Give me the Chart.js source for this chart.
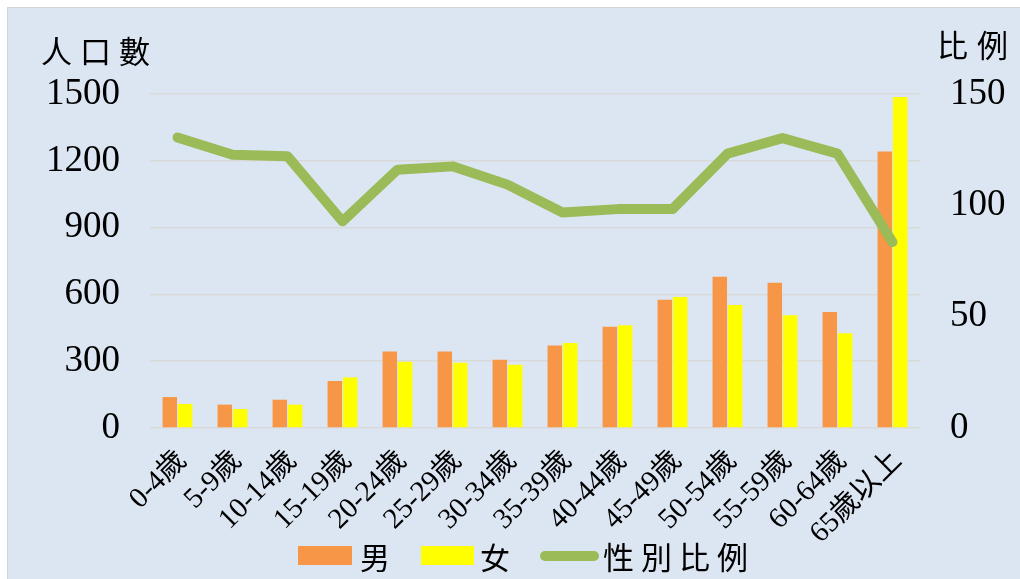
<!DOCTYPE html>
<html>
<head>
<meta charset="utf-8">
<script src="https://cdn.jsdelivr.net/npm/chart.js@4/dist/chart.umd.min.js"></script>
<style>
  body { margin: 0; background: #fff; width: 1020px; height: 579px; overflow: hidden; position: relative; }
  #box { position: absolute; left: 7px; top: 7px; width: 1013px; height: 572px; background: #dce6f2;
         border-left: 1px solid #d4d4d4; border-top: 1px solid #d4d4d4; box-sizing: border-box; }
  #chart { position: absolute; left: 7px; top: 7px; }
  .t { position: absolute; font-family: 'Noto Sans CJK TC', 'Noto Sans CJK SC', sans-serif; color: #000; white-space: nowrap; line-height: 1; }
  .sw { position: absolute; }
</style>
</head>
<body>
<div id="box"></div>
<canvas id="chart" width="1013" height="572"></canvas>

<!-- titres des axes -->
<div class="t" style="left:41px;top:34px;font-size:31px;letter-spacing:8px;">人口數</div>
<div class="t" style="left:937px;top:28px;font-size:31px;letter-spacing:9px;">比例</div>

<!-- légende -->
<div class="sw" style="left:298px;top:546px;width:54px;height:19px;background:#f79646;"></div>
<div class="t" style="left:360px;top:541px;font-size:30px;">男</div>
<div class="sw" style="left:421px;top:546px;width:53px;height:19px;background:#ffff00;"></div>
<div class="t" style="left:480px;top:541px;font-size:30px;">女</div>
<div class="sw" style="left:540px;top:551px;width:59px;height:10px;border-radius:5px;background:#9bbb59;"></div>
<div class="t" style="left:603px;top:540px;font-size:31px;letter-spacing:7px;">性別比例</div>

<script>
// Données
const categories = ['0-4歲', '5-9歲', '10-14歲', '15-19歲', '20-24歲', '25-29歲', '30-34歲',
  '35-39歲', '40-44歲', '45-49歲', '50-54歲', '55-59歲', '60-64歲', '65歲以上'];
const hommes = [139, 105, 127, 211, 344, 344, 307, 370, 455, 576, 679, 652, 521, 1242];
const femmes = [108, 85, 105, 227, 298, 293, 284, 382, 462, 588, 552, 506, 425, 1486];
const ratio = [130.5, 122.7, 122, 92.8, 116, 117.5, 109.3, 96.8, 98.3, 98.3, 123.2, 130.2, 123.2, 83.5];
const leftTicks = [0, 300, 600, 900, 1200, 1500];
const rightTicks = [0, 50, 100, 150];

const serif = "'Liberation Serif', 'Noto Sans CJK TC', serif";

const ctx = document.getElementById('chart').getContext('2d');
new Chart(ctx, {
  data: {
    labels: categories,
    datasets: [
      {
        type: 'line',
        label: '性別比例',
        data: ratio,
        yAxisID: 'y1',
        borderColor: '#9bbb59',
        borderWidth: 10,
        borderCapStyle: 'round',
        borderJoinStyle: 'round',
        pointRadius: 0,
        tension: 0,
        order: 0
      },
      {
        type: 'bar',
        label: '男',
        data: hommes,
        yAxisID: 'y',
        backgroundColor: '#f79646',
        categoryPercentage: 0.56,
        barPercentage: 0.94,
        order: 1
      },
      {
        type: 'bar',
        label: '女',
        data: femmes,
        yAxisID: 'y',
        backgroundColor: '#ffff00',
        categoryPercentage: 0.56,
        barPercentage: 0.94,
        order: 1
      }
    ]
  },
  options: {
    responsive: false,
    animation: false,
    layout: { padding: { top: 87, left: 0, right: 0, bottom: 0 } },
    plugins: {
      legend: { display: false },
      tooltip: { enabled: false }
    },
    scales: {
      x: {
        grid: { display: false },
        border: { display: false },
        ticks: {
          color: '#000',
          font: { family: serif, size: 29 },
          minRotation: 45,
          maxRotation: 45,
          autoSkip: false,
          padding: 8,
          labelOffset: 5
        },
        afterFit: scale => { scale.height = 151; }
      },
      y: {
        position: 'left',
        min: 0,
        max: 1500,
        afterBuildTicks: scale => { scale.ticks = leftTicks.map(v => ({ value: v })); },
        grid: { color: '#d9d9d9', lineWidth: 1.5, drawTicks: false },
        border: { display: false },
        ticks: {
          color: '#000',
          font: { family: serif, size: 37 },
          padding: 30,
          callback: v => String(v)
        },
        afterFit: scale => { scale.width = 143; }
      },
      y1: {
        position: 'right',
        min: 0,
        max: 150,
        afterBuildTicks: scale => { scale.ticks = rightTicks.map(v => ({ value: v })); },
        grid: { display: false, drawTicks: false },
        border: { display: false },
        ticks: {
          color: '#000',
          font: { family: serif, size: 37 },
          padding: 30,
          callback: v => String(v)
        },
        afterFit: scale => { scale.width = 100; }
      }
    }
  }
});
</script>
</body>
</html>
